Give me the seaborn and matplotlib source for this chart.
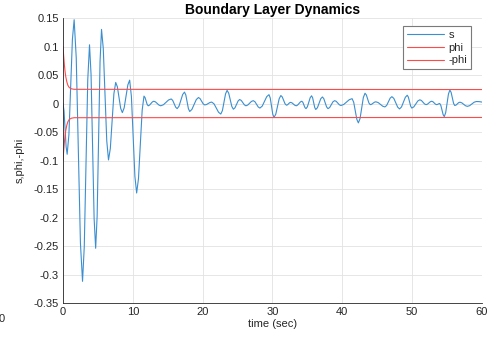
import numpy as np
import pandas as pd
import seaborn as sns
import matplotlib
matplotlib.use("Agg")
import matplotlib.pyplot as plt

# sliding surface s(t) (peaks, troughs and shoulders)
s_time = [0, 0.15, 0.45, 0.6, 0.85, 1.35, 1.6, 1.9, 2.5, 2.8, 3.05, 3.55,
          3.8, 4.02, 4.46, 4.68, 4.89, 5.31, 5.52, 5.77, 6.27, 6.52, 6.78,
          7.29, 7.55, 7.79, 8.26, 8.5, 8.76, 9.29, 9.55, 9.8, 10.3, 10.55,
          10.81, 11.34, 11.6, 11.75, 12.05, 12.2, 12.4, 12.8, 13.0, 13.25,
          13.75, 14.0, 14.38, 15.12, 15.5, 15.71, 16.14, 16.35, 16.61, 17.14,
          17.4, 17.59, 17.96, 18.15, 18.46, 19.09, 19.4, 19.63, 20.08, 20.3,
          20.55, 21.05, 21.3, 21.63, 22.28, 22.6, 22.83, 23.28, 23.5, 23.73,
          24.18, 24.4, 24.63, 25.08, 25.3, 25.53, 25.98, 26.2, 26.46, 26.99,
          27.25, 27.49, 27.96, 28.2, 28.53, 29.18, 29.5, 29.68, 30.04, 30.22,
          30.47, 30.96, 31.2, 31.4, 31.8, 32.0, 32.15, 32.45, 32.6, 32.8, 33.2,
          33.4, 33.6, 34.0, 34.2, 34.35, 34.65, 34.8, 35.0, 35.4, 35.6, 35.75,
          36.05, 36.2, 36.44, 36.91, 37.15, 37.35, 37.75, 37.95, 38.19, 38.66,
          38.9, 39.13, 39.58, 39.8, 40.2, 41.0, 41.4, 41.63, 42.08, 42.3,
          42.54, 43.01, 43.25, 43.44, 43.81, 44.0, 44.2, 44.6, 44.8, 45.13,
          45.78, 46.1, 46.35, 46.85, 47.1, 47.38, 47.93, 48.2, 48.48, 49.03,
          49.3, 49.46, 49.79, 49.95, 50.24, 50.81, 51.1, 51.33, 51.78, 52.0,
          52.2, 52.6, 52.8, 52.98, 53.33, 53.5, 53.61, 53.84, 53.95, 54.11,
          54.44, 54.6, 54.8, 55.2, 55.4, 55.58, 55.93, 56.1, 56.29, 56.66,
          56.85, 57.11, 57.64, 57.9, 58.23, 58.88, 59.2, 59.6, 60.0]
s_vals = [0.0, -0.013, -0.076, -0.089, -0.0545, 0.1125, 0.147, 0.080, -0.245,
          -0.312, -0.251, 0.042, 0.103, 0.051, -0.202, -0.254, -0.198, 0.074,
          0.130, 0.0966, -0.0656, -0.099, -0.079, 0.017, 0.037, 0.0293,
          -0.0083, -0.016, -0.0077, 0.0327, 0.041, 0.0121, -0.128, -0.157,
          -0.132, -0.0118, 0.013, 0.0105, -0.0015, -0.004, -0.0028, 0.0028,
          0.004, 0.0028, -0.0028, -0.004, -0.0022, 0.0062, 0.008, 0.0055,
          -0.0065, -0.009, -0.0048, 0.0158, 0.020, 0.015, -0.009, -0.014,
          -0.0104, 0.0069, 0.0105, 0.0086, -0.0006, -0.0025, -0.0018, 0.0018,
          0.0025, -0.0006, -0.0154, -0.0185, -0.0124, 0.0169, 0.023, 0.0182,
          -0.0052, -0.010, -0.0075, 0.0045, 0.007, 0.0054, -0.0024, -0.004,
          -0.0027, 0.0037, 0.005, 0.0031, -0.0061, -0.008, -0.0046, 0.0121,
          0.0155, 0.0097, -0.0187, -0.0245, -0.0189, 0.0084, 0.014, 0.0115,
          -0.0005, -0.003, -0.0023, 0.0013, 0.002, 0.0011, -0.0031, -0.004,
          -0.0028, 0.0028, 0.004, 0.0021, -0.0071, -0.009, -0.0057, 0.0102,
          0.0135, 0.010, -0.007, -0.0105, -0.0073, 0.0083, 0.0115, 0.0085,
          -0.006, -0.009, -0.007, 0.003, 0.005, 0.0038, -0.0023, -0.0035,
          -0.0017, 0.0067, 0.0085, 0.0023, -0.0278, -0.034, -0.0264, 0.0104,
          0.018, 0.0151, 0.0009, -0.002, -0.0013, 0.0023, 0.003, 0.0017,
          -0.0047, -0.006, -0.0034, 0.0094, 0.012, 0.0089, -0.0064, -0.0095,
          -0.006, 0.011, 0.0145, 0.0112, -0.0047, -0.008, -0.0059, 0.0044,
          0.0065, 0.0053, -0.0008, -0.002, -0.0011, 0.0031, 0.004, 0.0031,
          -0.0011, -0.002, -0.0017, -0.0003, 0.0, -0.0034, -0.0196, -0.023,
          -0.0162, 0.0167, 0.0235, 0.0196, 0.0004, -0.0035, -0.0027, 0.0015,
          0.0023, 0.0012, -0.0039, -0.005, -0.0038, 0.0023, 0.0035, 0.0033,
          0.0025]

# boundary layer thickness phi(t)
phi_time = [0, 0.1, 0.2, 0.3, 0.4, 0.55, 0.7, 0.9, 1.2, 1.6, 60.0]
phi_vals = [0.100, 0.083, 0.068, 0.056, 0.047, 0.038, 0.032, 0.028, 0.0258,
            0.0249, 0.0245]

x_ticks = [0, 10, 20, 30, 40, 50, 60]
y_ticks = [0.15, 0.1, 0.05, 0, -0.05, -0.1, -0.15, -0.2, -0.25, -0.3, -0.35]
y_tick_labels = ['0.15', '0.1', '0.05', '0', '-0.05', '-0.1', '-0.15', '-0.2',
                 '-0.25', '-0.3', '-0.35']

s_df = pd.DataFrame({'t': s_time, 'v': s_vals})
phi_df = pd.DataFrame({'t': phi_time, 'v': phi_vals})
mphi_df = pd.DataFrame({'t': phi_time, 'v': [-p for p in phi_vals]})

sns.set_theme(style='whitegrid')
plt.rcParams['font.family'] = ['Liberation Sans', 'DejaVu Sans']

fig = plt.figure(figsize=(5.03, 3.45), dpi=100)
ax = fig.add_axes([0.1252, 0.1217, 0.8330, 0.8261])

blue = '#3b8fd0'
red = '#ff4a4a'
sns.lineplot(data=s_df, x='t', y='v', ax=ax, color=blue, lw=0.8,
             estimator=None, sort=False, label='s')
sns.lineplot(data=phi_df, x='t', y='v', ax=ax, color=red, lw=0.8,
             estimator=None, sort=False, label='phi')
sns.lineplot(data=mphi_df, x='t', y='v', ax=ax, color=red, lw=0.8,
             estimator=None, sort=False, label='-phi')

ax.set_xlim(0, 60)
ax.set_ylim(-0.35, 0.15)
ax.set_xticks(x_ticks)
ax.set_yticks(y_ticks)
ax.set_yticklabels(y_tick_labels)
ax.tick_params(direction='in', length=3, width=0.6, colors='#262626',
               labelsize=8, pad=3)
ax.grid(True, color='#e2e2e2', lw=0.6)
ax.set_facecolor('white')
for side in ['top', 'right']:
    ax.spines[side].set_visible(False)
for side in ['left', 'bottom']:
    ax.spines[side].set_color('#262626')
    ax.spines[side].set_linewidth(0.6)

ax.set_xlabel('time (sec)', fontsize=8, color='#262626', labelpad=1)
ax.set_ylabel('s,phi,-phi', fontsize=8, color='#262626', labelpad=6)
ax.set_title('Boundary Layer Dynamics', fontsize=10, fontweight='bold',
             color='black', pad=3)

leg = ax.legend(loc='upper right', bbox_to_anchor=(0.974, 0.972),
                frameon=True, fancybox=False, framealpha=1, edgecolor='#7a7a7a',
                fontsize=8, handlelength=3.3, handletextpad=0.4,
                labelspacing=0.25, borderpad=0.35, borderaxespad=0)
leg.get_frame().set_linewidth(0.8)

# clipped tick label left over at the lower left edge of the picture
fig.text(2 / 503, 1 - 319 / 345, '0', ha='center', va='center', fontsize=8,
         color='#262626')

fig.savefig('out.png', dpi=100)
